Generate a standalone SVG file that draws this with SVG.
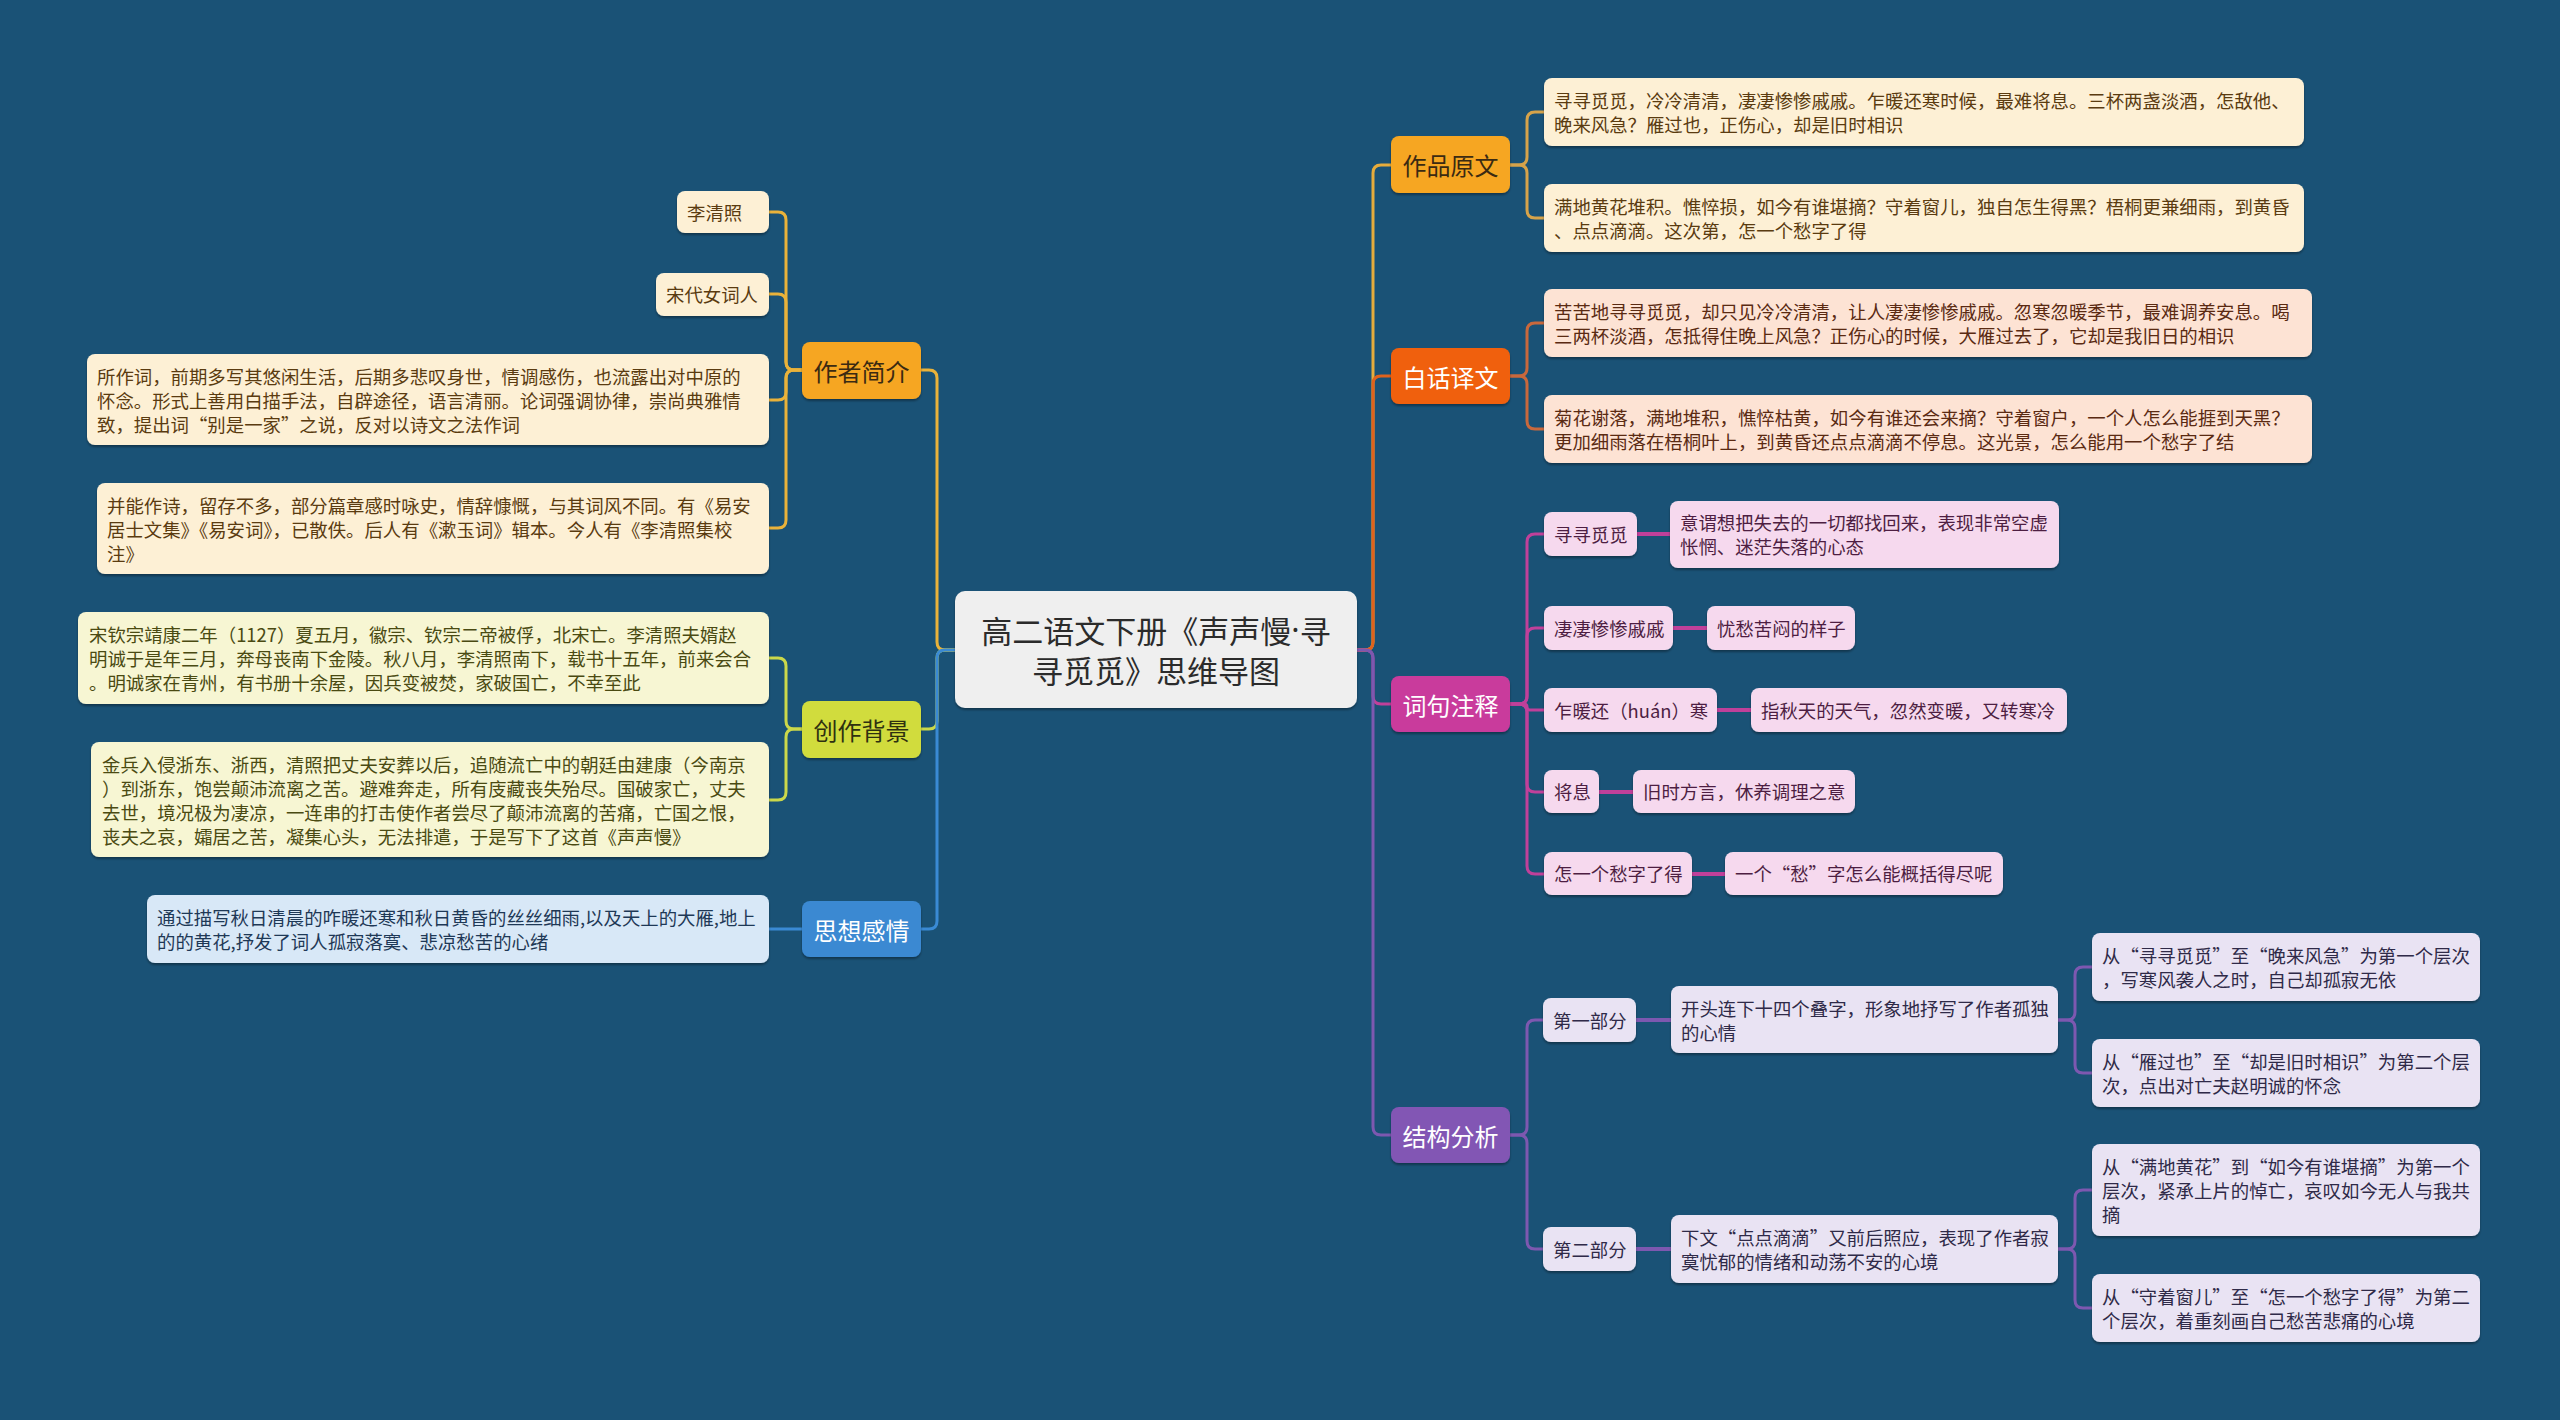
<svg xmlns="http://www.w3.org/2000/svg" width="2560" height="1420" viewBox="0 0 2560 1420">
<defs>
<style>
text{font-family:"Noto Sans CJK SC","Noto Sans",sans-serif;dominant-baseline:central}
.lf{font-size:18.4px}
.br{font-size:24px;text-anchor:middle}
.ct{font-size:31px;text-anchor:middle;fill:#2b2b2b}
.dot{font-family:"Noto Sans","Liberation Sans",sans-serif}
.ln{fill:none;stroke-width:3;stroke-linecap:round;stroke-linejoin:round}
.lk{fill:none;stroke-width:4;stroke-linecap:butt}
.bx{filter:url(#sh)}
.c1{stroke:#e9b23a}.c2{stroke:#cbd84a}.c3{stroke:#3a8ad4}
.c4{stroke:#e6ac3c}.c4b{stroke:#d6a34a}.c5{stroke:#e0621c}.c5b{stroke:#c8683c}
.c6{stroke:#c0409a}.c7{stroke:#7d58b0}
.fa{fill:#fdf0d5}.ta{fill:#5a3b10}
.fb{fill:#f7f6d3}.tb{fill:#4a4a12}
.fc{fill:#d8e8f7}.tc{fill:#1e3856}
.fd{fill:#fde3d4}.td{fill:#5a2a12}
.fe{fill:#f6d9ee}.te{fill:#4d1e42}
.ff{fill:#e9e3f3}.tf{fill:#2f2a48}
</style>
<filter id="sh" x="-10%" y="-20%" width="120%" height="150%">
<feDropShadow dx="0" dy="2" stdDeviation="1.2" flood-color="#000" flood-opacity="0.35"/>
</filter>
</defs>
<rect width="2560" height="1420" fill="#1a5276"/>

<g id="connectors">
<path class="ln c1" d="M955,650 H945 Q937,650 937,642 V378 Q937,370 929,370 H921"/>
<path class="ln c2" d="M955,650 H945 Q937,650 937,658 V721 Q937,729 929,729 H921"/>
<path class="ln c3" d="M955,650 H945 Q937,650 937,658 V921 Q937,929 929,929 H921"/>
<path class="ln c4" d="M1357,650 H1365 Q1373,650 1373,642 V173 Q1373,165 1381,165 H1391"/>
<path class="ln c5" d="M1357,650 H1365 Q1373,650 1373,642 V384 Q1373,376 1381,376 H1391"/>
<path class="ln c6" d="M1357,650 H1365 Q1373,650 1373,658 V696 Q1373,704 1381,704 H1391"/>
<path class="ln c7" d="M1357,650 H1365 Q1373,650 1373,658 V1127 Q1373,1135 1381,1135 H1391"/>

<path class="ln c1" d="M802,370 H794 Q786,370 786,362 V220 Q786,212 778,212 H769"/>
<path class="ln c1" d="M802,370 H794 Q786,370 786,362 V302 Q786,294 778,294 H769"/>
<path class="ln c1" d="M802,370 H794 Q786,370 786,378 V392 Q786,400 778,400 H769"/>
<path class="ln c1" d="M802,370 H794 Q786,370 786,378 V520 Q786,528 778,528 H769"/>
<path class="ln c2" d="M802,729 H794 Q786,729 786,721 V666 Q786,658 778,658 H769"/>
<path class="ln c2" d="M802,729 H794 Q786,729 786,737 V792 Q786,800 778,800 H769"/>
<path class="ln c3" d="M802,929 H769"/>

<path class="ln c4b" d="M1510,165 H1519 Q1527,165 1527,157 V120 Q1527,112 1535,112 H1544"/>
<path class="ln c4b" d="M1510,165 H1519 Q1527,165 1527,173 V210 Q1527,218 1535,218 H1544"/>
<path class="ln c5b" d="M1510,376 H1519 Q1527,376 1527,368 V331 Q1527,323 1535,323 H1544"/>
<path class="ln c5b" d="M1510,376 H1519 Q1527,376 1527,384 V421 Q1527,429 1535,429 H1544"/>

<path class="ln c6" d="M1510,704 H1519 Q1527,704 1527,696 V542 Q1527,534 1535,534 H1544"/>
<path class="ln c6" d="M1510,704 H1519 Q1527,704 1527,696 V636 Q1527,628 1535,628 H1544"/>
<path class="ln c6" d="M1510,704 H1524 Q1527,704 1527,707 Q1527,710 1530,710 H1544"/>
<path class="ln c6" d="M1510,704 H1519 Q1527,704 1527,712 V784 Q1527,792 1535,792 H1544"/>
<path class="ln c6" d="M1510,704 H1519 Q1527,704 1527,712 V866 Q1527,874 1535,874 H1544"/>
<path class="lk c6" d="M1637,534 H1670"/>
<path class="lk c6" d="M1673,628 H1707"/>
<path class="lk c6" d="M1717,710 H1751"/>
<path class="lk c6" d="M1599,792 H1633"/>
<path class="lk c6" d="M1692,874 H1725"/>

<path class="ln c7" d="M1510,1135 H1519 Q1527,1135 1527,1127 V1028 Q1527,1020 1535,1020 H1543"/>
<path class="ln c7" d="M1510,1135 H1519 Q1527,1135 1527,1143 V1241 Q1527,1249 1535,1249 H1543"/>
<path class="lk c7" d="M1636,1020 H1671"/>
<path class="lk c7" d="M1636,1249 H1671"/>
<path class="ln c7" d="M2058,1020 H2067 Q2075,1020 2075,1012 V975 Q2075,967 2083,967 H2092"/>
<path class="ln c7" d="M2058,1020 H2067 Q2075,1020 2075,1028 V1065 Q2075,1073 2083,1073 H2092"/>
<path class="ln c7" d="M2058,1249 H2067 Q2075,1249 2075,1241 V1198 Q2075,1190 2083,1190 H2092"/>
<path class="ln c7" d="M2058,1249 H2067 Q2075,1249 2075,1257 V1300 Q2075,1308 2083,1308 H2092"/>
</g>

<g id="center">
<rect class="bx" x="955" y="591" width="402" height="117" rx="10" fill="#efefef"/>
<text class="ct" x="1156" y="629">高二语文下册《声声慢<tspan class="dot">·</tspan>寻</text>
<text class="ct" x="1156" y="669">寻觅觅》思维导图</text>
</g>

<g id="b-zuozhe">
<rect class="bx" x="802" y="342" width="119" height="57" rx="8" fill="#f6a623"/>
<text class="br" x="861.5" y="370" fill="#3b2a12">作者简介</text>
</g>
<g id="b-chuangzuo">
<rect class="bx" x="802" y="701" width="119" height="57" rx="8" fill="#d1dc3e"/>
<text class="br" x="861.5" y="729" fill="#2e3010">创作背景</text>
</g>
<g id="b-sixiang">
<rect class="bx" x="802" y="901" width="119" height="56" rx="8" fill="#3a89d2"/>
<text class="br" x="861.5" y="929" fill="#ffffff">思想感情</text>
</g>
<g id="b-yuanwen">
<rect class="bx" x="1391" y="136" width="119" height="57" rx="8" fill="#f6a623"/>
<text class="br" x="1450.5" y="164" fill="#3b2a12">作品原文</text>
</g>
<g id="b-yiwen">
<rect class="bx" x="1391" y="348" width="119" height="56" rx="8" fill="#f0600c"/>
<text class="br" x="1450.5" y="376" fill="#ffffff">白话译文</text>
</g>
<g id="b-zhushi">
<rect class="bx" x="1391" y="676" width="119" height="56" rx="8" fill="#c93a9c"/>
<text class="br" x="1450.5" y="704" fill="#ffffff">词句注释</text>
</g>
<g id="b-jiegou">
<rect class="bx" x="1391" y="1107" width="119" height="56" rx="8" fill="#8256b4"/>
<text class="br" x="1450.5" y="1135" fill="#ffffff">结构分析</text>
</g>

<g id="n-liqingzhao">
<rect class="bx fa" x="677" y="191" width="92" height="42" rx="8"/>
<text class="lf ta" x="687" y="212">李清照</text>
</g>
<g id="n-songdai">
<rect class="bx fa" x="656" y="273" width="113" height="43" rx="8"/>
<text class="lf ta" x="666" y="294">宋代女词人</text>
</g>
<g id="n-suozuoci">
<rect class="bx fa" x="87" y="354" width="682" height="91" rx="8"/>
<text class="lf ta" x="97" y="376">所作词，前期多写其悠闲生活，后期多悲叹身世，情调感伤，也流露出对中原的</text>
<text class="lf ta" x="97" y="400">怀念。形式上善用白描手法，自辟途径，语言清丽。论词强调协律，崇尚典雅情</text>
<text class="lf ta" x="97" y="424">致，提出词“别是一家”之说，反对以诗文之法作词</text>
</g>
<g id="n-bingneng">
<rect class="bx fa" x="97" y="483" width="672" height="91" rx="8"/>
<text class="lf ta" x="107" y="505">并能作诗，留存不多，部分篇章感时咏史，情辞慷慨，与其词风不同。有《易安</text>
<text class="lf ta" x="107" y="529">居士文集》《易安词》，已散佚。后人有《漱玉词》辑本。今人有《李清照集校</text>
<text class="lf ta" x="107" y="553">注》</text>
</g>
<g id="n-qinzong">
<rect class="bx fb" x="78" y="612" width="691" height="92" rx="8"/>
<text class="lf tb" x="89" y="634">宋钦宗靖康二年（1127）夏五月，徽宗、钦宗二帝被俘，北宋亡。李清照夫婿赵</text>
<text class="lf tb" x="89" y="658">明诚于是年三月，奔母丧南下金陵。秋八月，李清照南下，载书十五年，前来会合</text>
<text class="lf tb" x="89" y="682">。明诚家在青州，有书册十余屋，因兵变被焚，家破国亡，不幸至此</text>
</g>
<g id="n-jinbing">
<rect class="bx fb" x="91" y="742" width="678" height="115" rx="8"/>
<text class="lf tb" x="102" y="764">金兵入侵浙东、浙西，清照把丈夫安葬以后，追随流亡中的朝廷由建康（今南京</text>
<text class="lf tb" x="102" y="788">）到浙东，饱尝颠沛流离之苦。避难奔走，所有庋藏丧失殆尽。国破家亡，丈夫</text>
<text class="lf tb" x="102" y="812">去世，境况极为凄凉，一连串的打击使作者尝尽了颠沛流离的苦痛，亡国之恨，</text>
<text class="lf tb" x="102" y="836">丧夫之哀，孀居之苦，凝集心头，无法排遣，于是写下了这首《声声慢》</text>
</g>
<g id="n-tongguo">
<rect class="bx fc" x="147" y="895" width="622" height="68" rx="8"/>
<text class="lf tc" x="157" y="917">通过描写秋日清晨的咋暖还寒和秋日黄昏的丝丝细雨,以及天上的大雁,地上</text>
<text class="lf tc" x="157" y="941">的的黄花,抒发了词人孤寂落寞、悲凉愁苦的心绪</text>
</g>

<g id="n-yuanwen1">
<rect class="bx fa" x="1544" y="78" width="760" height="68" rx="8"/>
<text class="lf ta" x="1554" y="100">寻寻觅觅，冷冷清清，凄凄惨惨戚戚。乍暖还寒时候，最难将息。三杯两盏淡酒，怎敌他、</text>
<text class="lf ta" x="1554" y="124">晚来风急？雁过也，正伤心，却是旧时相识</text>
</g>
<g id="n-yuanwen2">
<rect class="bx fa" x="1544" y="184" width="760" height="68" rx="8"/>
<text class="lf ta" x="1554" y="206">满地黄花堆积。憔悴损，如今有谁堪摘？守着窗儿，独自怎生得黑？梧桐更兼细雨，到黄昏</text>
<text class="lf ta" x="1554" y="230">、点点滴滴。这次第，怎一个愁字了得</text>
</g>
<g id="n-yiwen1">
<rect class="bx fd" x="1544" y="289" width="768" height="68" rx="8"/>
<text class="lf td" x="1554" y="311">苦苦地寻寻觅觅，却只见冷冷清清，让人凄凄惨惨戚戚。忽寒忽暖季节，最难调养安息。喝</text>
<text class="lf td" x="1554" y="335">三两杯淡酒，怎抵得住晚上风急？正伤心的时候，大雁过去了，它却是我旧日的相识</text>
</g>
<g id="n-yiwen2">
<rect class="bx fd" x="1544" y="395" width="768" height="68" rx="8"/>
<text class="lf td" x="1554" y="417">菊花谢落，满地堆积，憔悴枯黄，如今有谁还会来摘？守着窗户，一个人怎么能捱到天黑？</text>
<text class="lf td" x="1554" y="441">更加细雨落在梧桐叶上，到黄昏还点点滴滴不停息。这光景，怎么能用一个愁字了结</text>
</g>

<g id="n-xunxun">
<rect class="bx fe" x="1544" y="512" width="93" height="44" rx="8"/>
<text class="lf te" x="1554" y="534">寻寻觅觅</text>
</g>
<g id="n-xunxun-d">
<rect class="bx fe" x="1670" y="501" width="389" height="67" rx="8"/>
<text class="lf te" x="1680" y="522">意谓想把失去的一切都找回来，表现非常空虚</text>
<text class="lf te" x="1680" y="546">怅惘、迷茫失落的心态</text>
</g>
<g id="n-qiqi">
<rect class="bx fe" x="1544" y="606" width="129" height="44" rx="8"/>
<text class="lf te" x="1554" y="628">凄凄惨惨戚戚</text>
</g>
<g id="n-qiqi-d">
<rect class="bx fe" x="1707" y="606" width="148" height="44" rx="8"/>
<text class="lf te" x="1717" y="628">忧愁苦闷的样子</text>
</g>
<g id="n-zhanuan">
<rect class="bx fe" x="1544" y="688" width="173" height="44" rx="8"/>
<text class="lf te" x="1554" y="710">乍暖还（huán）寒</text>
</g>
<g id="n-zhanuan-d">
<rect class="bx fe" x="1751" y="688" width="316" height="44" rx="8"/>
<text class="lf te" x="1761" y="710">指秋天的天气，忽然变暖，又转寒冷</text>
</g>
<g id="n-jiangxi">
<rect class="bx fe" x="1544" y="770" width="55" height="43" rx="8"/>
<text class="lf te" x="1554" y="791">将息</text>
</g>
<g id="n-jiangxi-d">
<rect class="bx fe" x="1633" y="770" width="222" height="43" rx="8"/>
<text class="lf te" x="1643" y="791">旧时方言，休养调理之意</text>
</g>
<g id="n-zenyige">
<rect class="bx fe" x="1544" y="852" width="148" height="43" rx="8"/>
<text class="lf te" x="1554" y="873">怎一个愁字了得</text>
</g>
<g id="n-zenyige-d">
<rect class="bx fe" x="1725" y="852" width="278" height="43" rx="8"/>
<text class="lf te" x="1735" y="873">一个“愁”字怎么能概括得尽呢</text>
</g>

<g id="n-part1">
<rect class="bx ff" x="1543" y="998" width="93" height="44" rx="8"/>
<text class="lf tf" x="1553" y="1020">第一部分</text>
</g>
<g id="n-part1-d">
<rect class="bx ff" x="1671" y="986" width="387" height="67" rx="8"/>
<text class="lf tf" x="1681" y="1008">开头连下十四个叠字，形象地抒写了作者孤独</text>
<text class="lf tf" x="1681" y="1032">的心情</text>
</g>
<g id="n-part1-a">
<rect class="bx ff" x="2092" y="933" width="388" height="68" rx="8"/>
<text class="lf tf" x="2102" y="955">从“寻寻觅觅”至“晚来风急”为第一个层次</text>
<text class="lf tf" x="2102" y="979">，写寒风袭人之时，自己却孤寂无依</text>
</g>
<g id="n-part1-b">
<rect class="bx ff" x="2092" y="1039" width="388" height="68" rx="8"/>
<text class="lf tf" x="2102" y="1061">从“雁过也”至“却是旧时相识”为第二个层</text>
<text class="lf tf" x="2102" y="1085">次，点出对亡夫赵明诚的怀念</text>
</g>
<g id="n-part2">
<rect class="bx ff" x="1543" y="1227" width="93" height="44" rx="8"/>
<text class="lf tf" x="1553" y="1249">第二部分</text>
</g>
<g id="n-part2-d">
<rect class="bx ff" x="1671" y="1215" width="387" height="68" rx="8"/>
<text class="lf tf" x="1681" y="1237">下文“点点滴滴”又前后照应，表现了作者寂</text>
<text class="lf tf" x="1681" y="1261">寞忧郁的情绪和动荡不安的心境</text>
</g>
<g id="n-part2-a">
<rect class="bx ff" x="2092" y="1144" width="388" height="92" rx="8"/>
<text class="lf tf" x="2102" y="1166">从“满地黄花”到“如今有谁堪摘”为第一个</text>
<text class="lf tf" x="2102" y="1190">层次，紧承上片的悼亡，哀叹如今无人与我共</text>
<text class="lf tf" x="2102" y="1214">摘</text>
</g>
<g id="n-part2-b">
<rect class="bx ff" x="2092" y="1274" width="388" height="68" rx="8"/>
<text class="lf tf" x="2102" y="1296">从“守着窗儿”至“怎一个愁字了得”为第二</text>
<text class="lf tf" x="2102" y="1320">个层次，着重刻画自己愁苦悲痛的心境</text>
</g>
</svg>
